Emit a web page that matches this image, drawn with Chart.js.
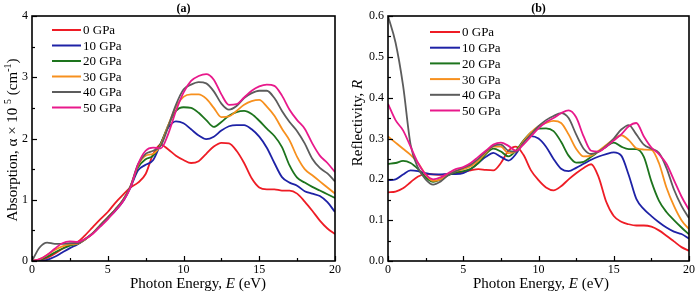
<!DOCTYPE html>
<html>
<head>
<meta charset="utf-8">
<script src="https://cdn.jsdelivr.net/npm/chart.js@4.4.1/dist/chart.umd.min.js"></script>
<style>
  html, body { margin: 0; padding: 0; background: #fff; }
  #wrap { position: relative; width: 697px; height: 292px; overflow: hidden; }
  #ca { position: absolute; left: 0; top: 0; }
  #cb { position: absolute; left: 347px; top: 0; }
</style>
</head>
<body>
<div id="wrap">
  <canvas id="ca" width="347" height="292"></canvas>
  <canvas id="cb" width="350" height="292"></canvas>
</div>
<script>
// ---------- DATA ----------
const energy = [0,0.5,1,1.5,2,2.5,3,3.5,4,4.5,5,5.5,6,6.5,7,7.5,8,8.5,9,9.5,10,10.5,11,11.5,12,12.5,13,13.5,14,14.5,15,15.5,16,16.5,17,17.5,18,18.5,19,19.5,20];
const pressures = ["0 GPa", "10 GPa", "20 GPa", "30 GPa", "40 GPa", "50 GPa"];
const seriesColors = ["#EE1C25", "#1E22A6", "#1D741D", "#F7901E", "#5C5C5C", "#E8198B"];

// (a) Absorption, alpha x 10^5 (cm^-1)
const abs0  = [0,0.01,0.05,0.12,0.2,0.27,0.31,0.42,0.55,0.68,0.8,0.95,1.08,1.2,1.28,1.42,1.75,1.9,1.82,1.72,1.65,1.6,1.63,1.75,1.87,1.93,1.92,1.8,1.6,1.35,1.2,1.17,1.17,1.15,1.15,1.1,0.97,0.82,0.66,0.53,0.44];
const abs10 = [0,0,0.02,0.07,0.14,0.21,0.27,0.35,0.45,0.57,0.7,0.82,0.97,1.2,1.48,1.57,1.65,1.92,2.18,2.28,2.25,2.15,2.05,1.99,2.03,2.13,2.2,2.22,2.22,2.15,2.03,1.85,1.6,1.37,1.28,1.23,1.14,1.1,1.06,0.96,0.8];
const abs20 = [0,0.02,0.07,0.14,0.2,0.25,0.28,0.35,0.45,0.58,0.71,0.84,0.99,1.22,1.53,1.66,1.72,1.92,2.22,2.45,2.51,2.5,2.42,2.3,2.19,2.27,2.37,2.43,2.45,2.4,2.29,2.16,2.04,1.86,1.56,1.36,1.28,1.21,1.15,1.09,1.03];
const abs30 = [0,0.03,0.1,0.18,0.24,0.27,0.28,0.35,0.45,0.58,0.71,0.84,0.99,1.22,1.56,1.72,1.75,1.9,2.22,2.52,2.68,2.72,2.72,2.65,2.5,2.35,2.36,2.45,2.55,2.61,2.63,2.52,2.37,2.16,1.97,1.7,1.5,1.4,1.3,1.2,1.1];
const abs40 = [0,0.22,0.3,0.28,0.28,0.29,0.29,0.36,0.45,0.58,0.71,0.84,0.99,1.22,1.58,1.75,1.8,1.88,2.2,2.55,2.8,2.88,2.92,2.9,2.77,2.57,2.47,2.53,2.66,2.74,2.78,2.78,2.66,2.45,2.27,2.12,1.92,1.67,1.52,1.43,1.3];
const abs50 = [0,0.03,0.1,0.2,0.29,0.32,0.31,0.36,0.44,0.56,0.68,0.82,0.97,1.2,1.58,1.8,1.85,1.84,2.08,2.45,2.75,2.94,3.02,3.05,2.96,2.72,2.55,2.56,2.67,2.78,2.85,2.88,2.86,2.7,2.47,2.3,2.16,1.92,1.72,1.6,1.45];

// (b) Reflectivity, R
const ref0  = [0.168,0.17,0.178,0.193,0.207,0.213,0.212,0.211,0.212,0.215,0.218,0.222,0.225,0.223,0.222,0.24,0.27,0.28,0.26,0.222,0.198,0.18,0.173,0.183,0.2,0.215,0.228,0.237,0.205,0.145,0.11,0.096,0.09,0.087,0.087,0.084,0.075,0.062,0.048,0.034,0.025];
const ref10 = [0.198,0.2,0.212,0.222,0.22,0.215,0.212,0.212,0.213,0.213,0.215,0.225,0.24,0.255,0.265,0.255,0.246,0.262,0.292,0.306,0.3,0.28,0.25,0.226,0.22,0.228,0.238,0.248,0.256,0.262,0.266,0.258,0.21,0.152,0.127,0.11,0.095,0.082,0.072,0.066,0.055];
const ref20 = [0.238,0.24,0.245,0.24,0.225,0.205,0.194,0.2,0.21,0.217,0.22,0.226,0.24,0.262,0.275,0.268,0.256,0.27,0.295,0.315,0.324,0.325,0.318,0.292,0.258,0.241,0.243,0.255,0.268,0.28,0.29,0.28,0.274,0.274,0.255,0.195,0.148,0.12,0.1,0.082,0.065];
const ref30 = [0.305,0.29,0.275,0.26,0.24,0.212,0.196,0.2,0.212,0.22,0.225,0.232,0.246,0.265,0.28,0.28,0.264,0.268,0.293,0.315,0.33,0.338,0.343,0.338,0.31,0.275,0.256,0.258,0.27,0.284,0.298,0.308,0.296,0.276,0.273,0.272,0.24,0.18,0.135,0.1,0.078];
const ref40 = [0.6,0.535,0.43,0.285,0.228,0.2,0.187,0.195,0.21,0.22,0.228,0.236,0.25,0.268,0.282,0.285,0.27,0.268,0.29,0.31,0.33,0.345,0.355,0.362,0.35,0.31,0.275,0.262,0.268,0.282,0.3,0.322,0.333,0.31,0.285,0.275,0.265,0.228,0.175,0.135,0.105];
const ref50 = [0.385,0.345,0.32,0.28,0.24,0.212,0.2,0.205,0.215,0.225,0.23,0.24,0.255,0.27,0.285,0.29,0.282,0.27,0.285,0.305,0.325,0.34,0.35,0.362,0.369,0.352,0.305,0.27,0.268,0.28,0.295,0.31,0.33,0.338,0.305,0.278,0.262,0.238,0.198,0.158,0.125];

const xTicksMajor = [0, 5, 10, 15, 20];
const xTicksAll = [0, 2.5, 5, 7.5, 10, 12.5, 15, 17.5, 20];
const yTicksAllA = [0, 0.5, 1, 1.5, 2, 2.5, 3, 3.5, 4];
const yTicksMajorA = [0, 1, 2, 3, 4];
const yTicksAllB = [0, 0.05, 0.1, 0.15, 0.2, 0.25, 0.3, 0.35, 0.4, 0.45, 0.5, 0.55, 0.6];
const yTicksMajorB = [0, 0.1, 0.2, 0.3, 0.4, 0.5, 0.6];

// ---------- DRAWING ----------
const SERIF = "'Liberation Serif', 'Times New Roman', serif";

function drawRuns(ctx, runs, cx, cy) {
  let total = 0;
  runs.forEach(r => { ctx.font = r.font; r.w = ctx.measureText(r.text).width; total += r.w; });
  let x = cx - total / 2;
  ctx.textAlign = 'left';
  ctx.textBaseline = 'alphabetic';
  runs.forEach(r => { ctx.font = r.font; ctx.fillText(r.text, x, cy + (r.dy || 0)); x += r.w; });
}

function makeDecor(opts) {
  return {
    id: 'decor',
    afterDraw(chart) {
      const ctx = chart.ctx;
      const a = chart.chartArea;
      const xs = chart.scales.x, ys = chart.scales.y;
      ctx.save();
      ctx.strokeStyle = '#000';
      ctx.fillStyle = '#000';
      ctx.lineWidth = 1.2;
      // inward ticks on bottom
      xTicksAll.forEach(v => {
        const px = Math.round(xs.getPixelForValue(v)) + 0.5;
        const len = xTicksMajor.includes(v) ? 5 : 3;
        ctx.beginPath(); ctx.moveTo(px, a.bottom); ctx.lineTo(px, a.bottom - len); ctx.stroke();
      });
      // inward ticks on left
      opts.yAll.forEach(v => {
        const py = Math.round(ys.getPixelForValue(v)) + 0.5;
        const len = opts.yMajor.some(m => Math.abs(m - v) < 1e-9) ? 5 : 3;
        ctx.beginPath(); ctx.moveTo(a.left, py); ctx.lineTo(a.left + len, py); ctx.stroke();
      });
      // frame
      ctx.lineWidth = 1.6;
      ctx.strokeRect(a.left, a.top, a.right - a.left, a.bottom - a.top);
      // panel title
      ctx.font = 'bold 12px ' + SERIF;
      ctx.textAlign = 'center';
      ctx.textBaseline = 'alphabetic';
      ctx.fillText(opts.panel, (a.left + a.right) / 2, 12);
      // x title
      drawRuns(ctx, [
        { text: 'Photon Energy, ', font: '15px ' + SERIF },
        { text: 'E', font: 'italic 15px ' + SERIF },
        { text: ' (eV)', font: '15px ' + SERIF }
      ], opts.xTitleX, 288);
      // y title (rotated)
      ctx.save();
      ctx.translate(opts.yTitleX, opts.yTitleY);
      ctx.rotate(-Math.PI / 2);
      drawRuns(ctx, opts.yRuns, 0, 5);
      ctx.restore();
      // legend
      chart.data.datasets.forEach((ds, i) => {
        const y = opts.legY0 + i * opts.legDy;
        ctx.strokeStyle = ds.borderColor;
        ctx.lineWidth = 2;
        ctx.beginPath(); ctx.moveTo(opts.legX0, y); ctx.lineTo(opts.legX1, y); ctx.stroke();
        ctx.fillStyle = '#000';
        ctx.font = '13px ' + SERIF;
        ctx.textAlign = 'left';
        ctx.textBaseline = 'middle';
        ctx.fillText(ds.label, opts.legX1 + 2, y + 1);
      });
      ctx.restore();
    }
  };
}

function buildChart(canvasId, seriesList, yMax, yStep, left, rightPad, decorOpts, fmt) {
  const datasets = seriesList.map((vals, i) => ({
    label: pressures[i],
    data: vals.map((v, k) => ({ x: energy[k], y: v })),
    borderColor: seriesColors[i],
    backgroundColor: seriesColors[i],
    borderWidth: 1.8,
    pointRadius: 0,
    fill: false,
    cubicInterpolationMode: 'monotone',
    order: seriesList.length - i
  }));
  return new Chart(document.getElementById(canvasId), {
    type: 'line',
    data: { datasets },
    options: {
      responsive: false,
      animation: false,
      devicePixelRatio: 1,
      layout: { padding: { left: 0, right: rightPad, top: 16, bottom: 0 } },
      plugins: { legend: { display: false }, tooltip: { enabled: false }, title: { display: false } },
      scales: {
        x: {
          type: 'linear', min: 0, max: 20,
          grid: { display: false, drawTicks: false, tickLength: 0 }, border: { display: false },
          ticks: { stepSize: 5, color: '#000', padding: 2, maxRotation: 0, font: { family: SERIF, size: 12 } },
          afterFit: s => { s.height = 31; }
        },
        y: {
          type: 'linear', min: 0, max: yMax,
          grid: { display: false, drawTicks: false, tickLength: 0 }, border: { display: false },
          ticks: { stepSize: yStep, color: '#000', padding: 4, font: { family: SERIF, size: 12 }, callback: fmt },
          afterFit: s => { s.width = left; }
        }
      }
    },
    plugins: [makeDecor(decorOpts)]
  });
}

buildChart('ca', [abs0, abs10, abs20, abs30, abs40, abs50], 4, 1, 32, 12, {
  panel: '(a)', yAll: yTicksAllA, yMajor: yTicksMajorA,
  xTitleX: 198, yTitleX: 12, yTitleY: 140,
  yRuns: [
    { text: 'Absorption, α × 10 ', font: '15px ' + SERIF },
    { text: '5', font: '10px ' + SERIF, dy: -6 },
    { text: ' (cm', font: '15px ' + SERIF },
    { text: '-1', font: '10px ' + SERIF, dy: -6 },
    { text: ')', font: '15px ' + SERIF }
  ],
  legX0: 52, legX1: 81, legY0: 30, legDy: 15.5
}, v => String(v));

buildChart('cb', [ref0, ref10, ref20, ref30, ref40, ref50], 0.6, 0.1, 41, 6, {
  panel: '(b)', yAll: yTicksAllB, yMajor: yTicksMajorB,
  xTitleX: 194, yTitleX: 10, yTitleY: 123,
  yRuns: [
    { text: 'Reflectivity, ', font: '15px ' + SERIF },
    { text: 'R', font: 'italic 15px ' + SERIF }
  ],
  legX0: 83, legX1: 113, legY0: 32, legDy: 15.7
}, v => Number(v).toFixed(1));
</script>
</body>
</html>
